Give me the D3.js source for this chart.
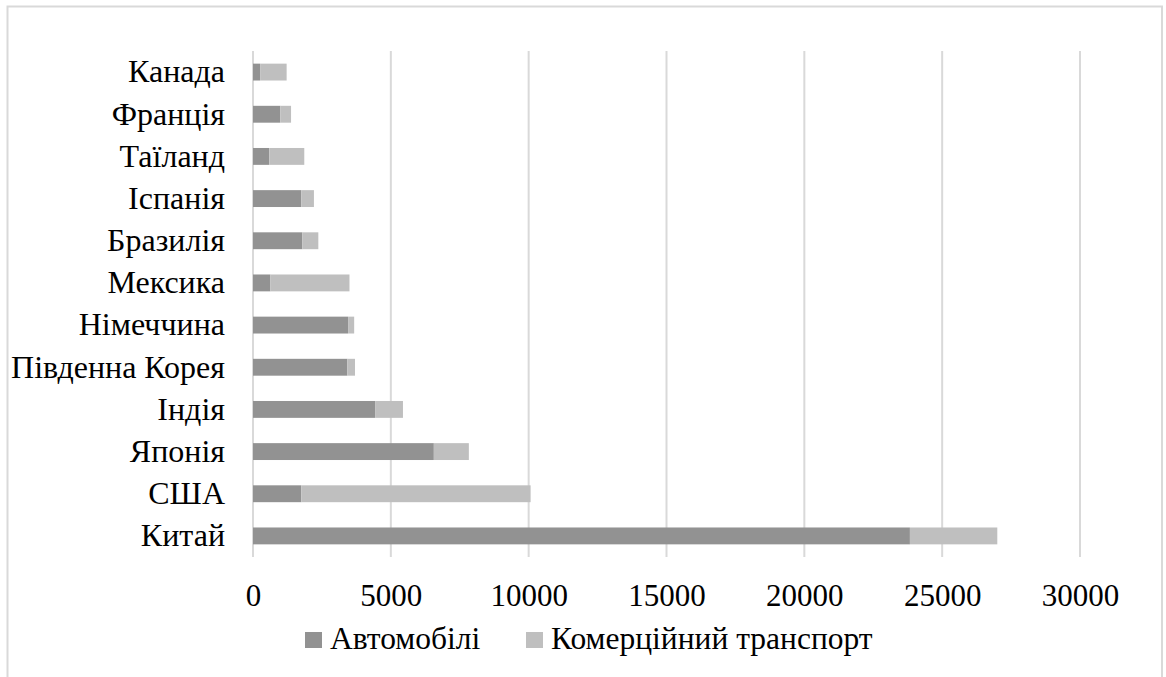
<!DOCTYPE html>
<html><head><meta charset="utf-8">
<script src="https://cdn.jsdelivr.net/npm/d3@7/dist/d3.min.js"></script>
<style>
html,body{margin:0;padding:0;background:#fff;}
svg{display:block;}
svg text{font-family:Liberation Serif, Tinos, serif;fill:#000;}
</style>
</head><body>
<svg id="chart" width="1166" height="677"></svg>
<script>
const categories = ["Канада","Франція","Таїланд","Іспанія","Бразилія","Мексика","Німеччина","Південна Корея","Індія","Японія","США","Китай"];
const cars       = [260, 990, 590, 1750, 1790, 630, 3450, 3420, 4430, 6560, 1750, 23830];
const commercial = [960, 390, 1270, 460, 580, 2870, 220, 280, 1010, 1270, 8320, 3170];
const seriesNames = ["Автомобілі","Комерційний транспорт"];
const colors = ["#929292","#bfbfbf"];
const tickValues = [0,5000,10000,15000,20000,25000,30000];
const FONT = "Liberation Serif, Tinos, serif";

const svg = d3.select("#chart");
// chart border
svg.append("rect").attr("x",7.5).attr("y",6.5).attr("width",1154.5).attr("height",700)
  .attr("fill","none").attr("stroke","#d9d9d9").attr("stroke-width",2);

const x = d3.scaleLinear().domain([0,30000]).range([253,1080]);
const y = d3.scaleBand().domain(categories).range([51,557]).paddingInner(0.6).paddingOuter(0.3);

// gridlines
svg.append("g").selectAll("line").data(tickValues).join("line")
  .attr("x1",d=>x(d)).attr("x2",d=>x(d)).attr("y1",51).attr("y2",557)
  .attr("stroke","#d9d9d9").attr("stroke-width",2);

const rows = categories.map((c,i)=>({cat:c, vals:[cars[i], commercial[i]]}));
const stack = d3.stack().keys([0,1]).value((d,k)=>d.vals[k]);
const stacked = stack(rows);

svg.append("g").selectAll("g").data(stacked).join("g")
  .attr("fill",(d,i)=>colors[i])
  .selectAll("rect").data(d=>d).join("rect")
  .attr("x",d=>x(d[0])).attr("width",d=>x(d[1])-x(d[0]))
  .attr("y",d=>y(d.data.cat)).attr("height",y.bandwidth());

// category labels
const yAxis = d3.axisLeft(y).tickSize(0).tickPadding(28);
const gy = svg.append("g").attr("transform","translate(253,0)").call(yAxis)
  .attr("font-family",FONT).attr("font-size",null);
gy.select(".domain").remove();
gy.selectAll("text").style("font-size","32px").attr("dy","0.32em")
  .style("font-family",FONT).attr("fill","#000");

// x tick labels
const xAxis = d3.axisBottom(x).tickValues(tickValues).tickSize(0).tickPadding(0).tickFormat(d3.format("d"));
const gx = svg.append("g").attr("transform","translate(0,606)").call(xAxis)
  .attr("font-family",FONT).attr("font-size",null);
gx.select(".domain").remove();
gx.selectAll("text").attr("y",0).attr("dy","0").style("font-size","31px")
  .style("font-family",FONT).attr("fill","#000");

// legend
const legendX = [305, 526];
const leg = svg.append("g").selectAll("g").data(seriesNames).join("g")
  .attr("transform",(d,i)=>`translate(${legendX[i]},632)`);
leg.append("rect").attr("width",17).attr("height",16).attr("fill",(d,i)=>colors[i]);
leg.append("text").attr("x",25).attr("y",16.5).style("font-size","31.5px")
  .style("font-family",FONT).text(d=>d);
</script>
</body></html>
